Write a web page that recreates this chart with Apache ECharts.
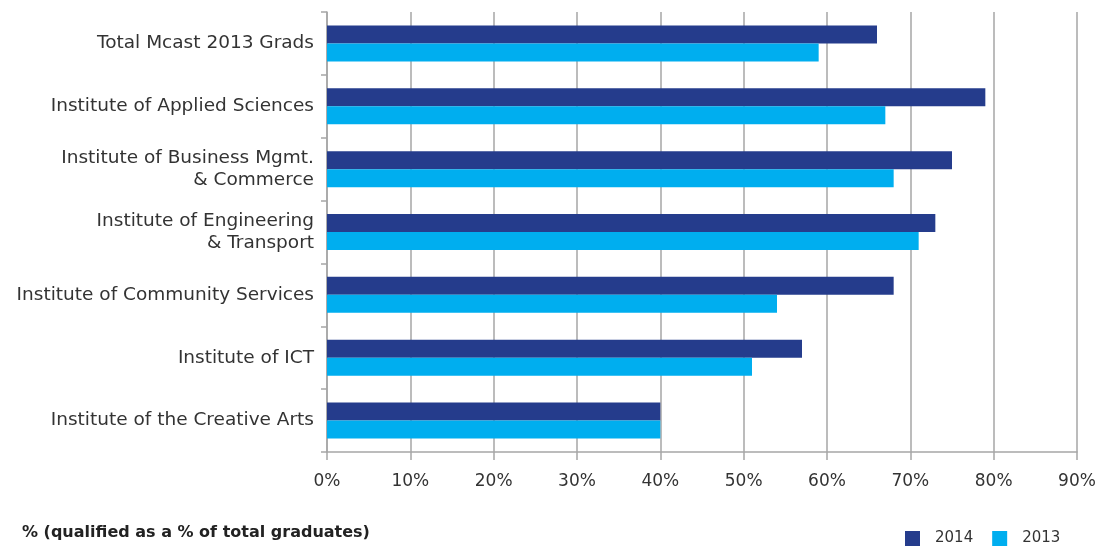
<!DOCTYPE html>
<html>
<head>
<meta charset="utf-8">
<script src="https://cdn.jsdelivr.net/npm/echarts@6/dist/echarts.min.js"></script>
<style>
  html, body { margin: 0; padding: 0; background: #fff; }
  #chart { width: 1105px; height: 547px; }
</style>
</head>
<body>
<div id="chart"></div>
<script>
// Institutes, top to bottom
const categories = [
  'Total Mcast 2013 Grads',
  'Institute of Applied Sciences',
  'Institute of Business Mgmt.\n& Commerce',
  'Institute of Engineering\n& Transport',
  'Institute of Community Services',
  'Institute of ICT',
  'Institute of the Creative Arts'
];
// Share qualified (% of total graduates)
const values2014 = [66, 79, 75, 73, 68, 57, 40];
const values2013 = [59, 67, 68, 71, 54, 51, 40];
const seriesNames = ['2014', '2013'];
const xTicks = [0, 10, 20, 30, 40, 50, 60, 70, 80, 90];
const footnote = '% (qualified as a % of total graduates)';

const FONT = '"DejaVu Sans", "Open Sans", sans-serif';
const GRID_GREY = '#a6a6a6';
const TEXT = '#333333';

const chart = echarts.init(document.getElementById('chart'));
chart.setOption({
  animation: false,
  textStyle: { fontFamily: FONT },
  title: {
    text: footnote,
    left: 22,
    top: 524,
    padding: 0,
    textStyle: { fontFamily: FONT, fontSize: 16, fontWeight: 'bold', color: '#222', lineHeight: 18 }
  },
  legend: {
    data: seriesNames,
    left: 905,
    top: 531,
    padding: 0,
    itemWidth: 15,
    itemHeight: 15,
    itemGap: 19,
    icon: 'rect',
    textStyle: { fontFamily: FONT, fontSize: 15, color: TEXT, lineHeight: 15, padding: [0, 0, 0, 10] }
  },
  grid: { left: 327, right: 28, top: 12, bottom: 95, containLabel: false },
  xAxis: {
    type: 'value',
    min: xTicks[0],
    max: xTicks[xTicks.length - 1],
    interval: 10,
    axisLine: { show: true, lineStyle: { color: GRID_GREY, width: 1.5 } },
    axisTick: { show: true, length: 8, lineStyle: { color: GRID_GREY, width: 1.5 } },
    splitLine: { show: true, lineStyle: { color: GRID_GREY, width: 1.5 } },
    axisLabel: {
      formatter: '{value}%',
      fontFamily: FONT, fontSize: 17, color: TEXT, margin: 21
    }
  },
  yAxis: {
    type: 'category',
    inverse: true,
    data: categories,
    axisLine: { show: true, lineStyle: { color: GRID_GREY, width: 1.5 } },
    axisTick: { show: true, length: 6, lineStyle: { color: GRID_GREY, width: 1.5 } },
    axisLabel: {
      fontFamily: FONT, fontSize: 18.5, color: TEXT, margin: 13,
      lineHeight: 22, align: 'right'
    }
  },
  series: [
    {
      name: seriesNames[0],
      type: 'bar',
      data: values2014,
      barWidth: 18,
      barGap: '0%',
      itemStyle: { color: '#253c8c' }
    },
    {
      name: seriesNames[1],
      type: 'bar',
      data: values2013,
      barWidth: 18,
      barGap: '0%',
      itemStyle: { color: '#00aeef' }
    }
  ]
});
</script>
</body>
</html>
